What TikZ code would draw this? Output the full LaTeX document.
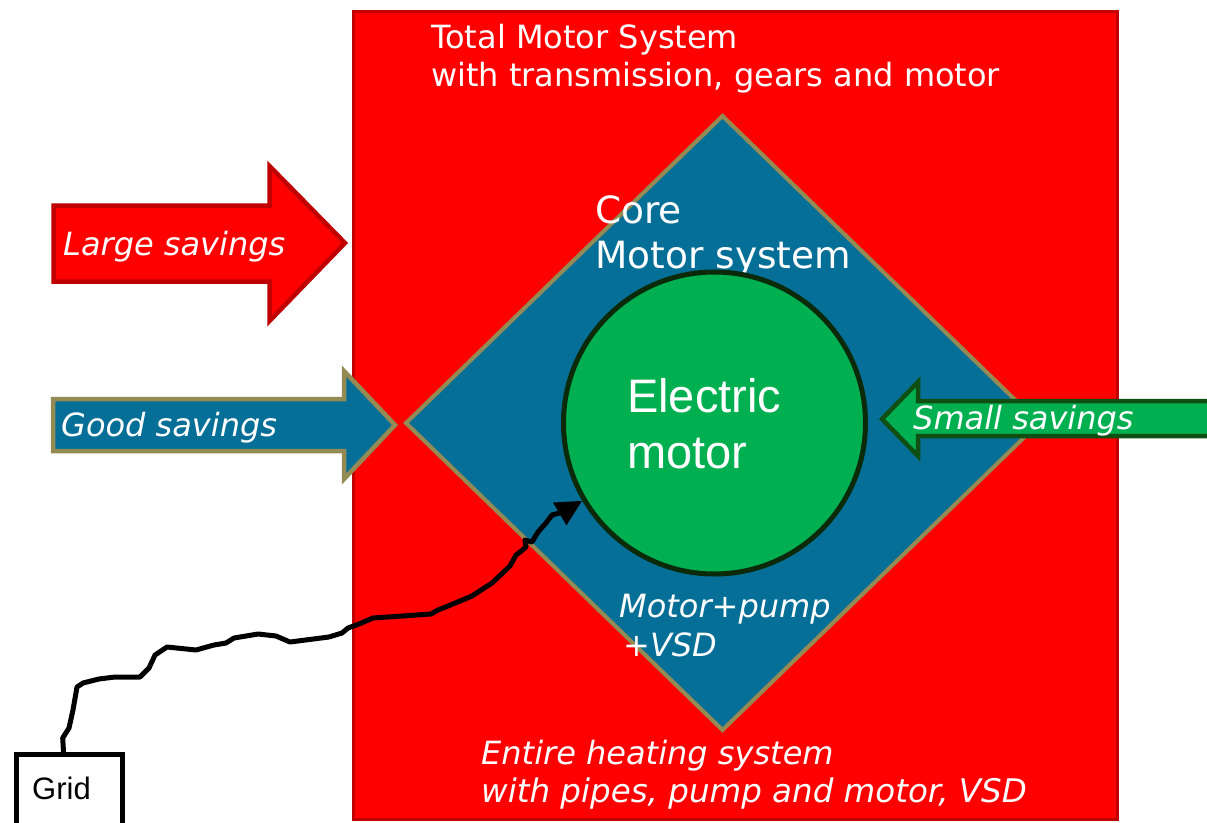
\documentclass[tikz,border=0pt]{standalone}
\usepackage{fontspec}
\setmainfont{DejaVu Sans}
\newfontfamily\arialf{Liberation Sans}
\usetikzlibrary{arrows.meta}
\definecolor{myred}{HTML}{FF0000}
\definecolor{myredb}{HTML}{C00000}
\definecolor{myblue}{HTML}{066F97}
\definecolor{myolive}{HTML}{948A54}
\definecolor{mygreen}{HTML}{00B050}
\definecolor{mygreenb}{HTML}{0F4F14}
\definecolor{mydark}{HTML}{0A2A0A}
\tikzset{
  wtxt/.style={text=white, inner sep=0pt, anchor=base west, font=\fontsize{32}{38}\selectfont},
  witxt/.style={wtxt, font=\fontsize{32}{38}\selectfont\itshape},
  bigarrow/.style={line width=4.5pt, line join=miter},
}
\begin{document}
\begin{tikzpicture}[x=1pt,y=-1pt]
\useasboundingbox (0,0) rectangle (1207,822);
\clip (0,0) rectangle (1207,822);
% outer red system
\draw[fill=myred, draw=myredb, line width=3pt] (353.5,11.5) rectangle (1117,819.5);
\node[wtxt] (tot1) at (431,48) {Total Motor System};
\node[wtxt] (tot2) at (431,86) {with transmission, gears and motor};
% diamond
\draw[fill=myblue, draw=myolive, line width=4pt, line join=miter]
  (722.5,116) -- (1039,423) -- (722.5,730) -- (406,423) -- cycle;
\node[wtxt, font=\fontsize{37.5}{45}\selectfont] (core1) at (595,223) {Core};
\node[wtxt, font=\fontsize{37.5}{45}\selectfont] (core2) at (595,268) {Motor system};
\node[witxt] (mp1) at (619,617) {Motor+pump};
\node[witxt] (mp2) at (623,656) {+VSD};
\node[witxt] (ent1) at (481,764) {Entire heating system};
\node[witxt, font=\fontsize{32.5}{38}\selectfont\itshape] (ent2) at (481,802) {with pipes, pump and motor, VSD};
% motor
\node[circle, minimum size=302pt, inner sep=0pt, fill=mygreen, draw=mydark, line width=5pt] (motor) at (714.5,423) {};
\node[wtxt, font=\arialf\fontsize{47}{56}\selectfont] (el1) at (627,412) {Electric};
\node[wtxt, font=\arialf\fontsize{47}{56}\selectfont] (el2) at (627,468) {motor};
% large savings arrow
\draw[bigarrow, fill=myred, draw=myredb]
  (53.5,205.5) -- (269.5,205.5) -- (269.5,166) -- (345,243) -- (269.5,321) -- (269.5,281.5) -- (53.5,281.5) -- cycle;
\node[witxt] (large) at (63,255) {Large savings};
% good savings arrow
\draw[bigarrow, fill=myblue, draw=myolive]
  (53,399) -- (344,399) -- (344,371) -- (395,425) -- (344,479) -- (344,451) -- (53,451) -- cycle;
\node[witxt] (good) at (61,436) {Good savings};
% small savings arrow
\draw[bigarrow, fill=mygreen, draw=mygreenb]
  (882,419) -- (918,382) -- (918,401) -- (1215,401) -- (1215,436) -- (918,436) -- (918,456) -- cycle;
\node[witxt] (small) at (913,429) {Small savings};
% grid
\node[draw=black, fill=white, line width=5pt, minimum width=106pt, minimum height=100pt, inner sep=0pt, anchor=north west] (grid) at (14,751.5) {};
\node[inner sep=0pt, anchor=base west, font=\arialf\fontsize{31}{36}\selectfont] (gridtxt) at (32,799) {Grid};
% wire
\draw[line width=5pt, line join=round, line cap=round, -{Triangle[length=26pt,width=25pt]}]
  ([xshift=-6pt]grid.north) -- (62.7,738) -- (69,728) -- (73,710) -- (77,687) -- (83,683)
  -- (99,679) -- (115,677) -- (140,677) -- (149,668) -- (155,655) -- (167,647)
  -- (196,650) -- (214,645) -- (226,643) -- (234,638) -- (258,634) -- (276,636)
  -- (290,642) -- (329,637) -- (342,633) -- (348,628) -- (359,624) -- (373,618)
  -- (431,614) -- (438,610) -- (448,606) -- (460,601) -- (472,596) -- (492,583)
  -- (510,566) -- (516,555) -- (520,552) -- (526,547) -- (525,540) -- (532,542)
  -- (538,532) -- (546,523) -- (552,515) -- (563,512) -- (motor);
\end{tikzpicture}
\end{document}
